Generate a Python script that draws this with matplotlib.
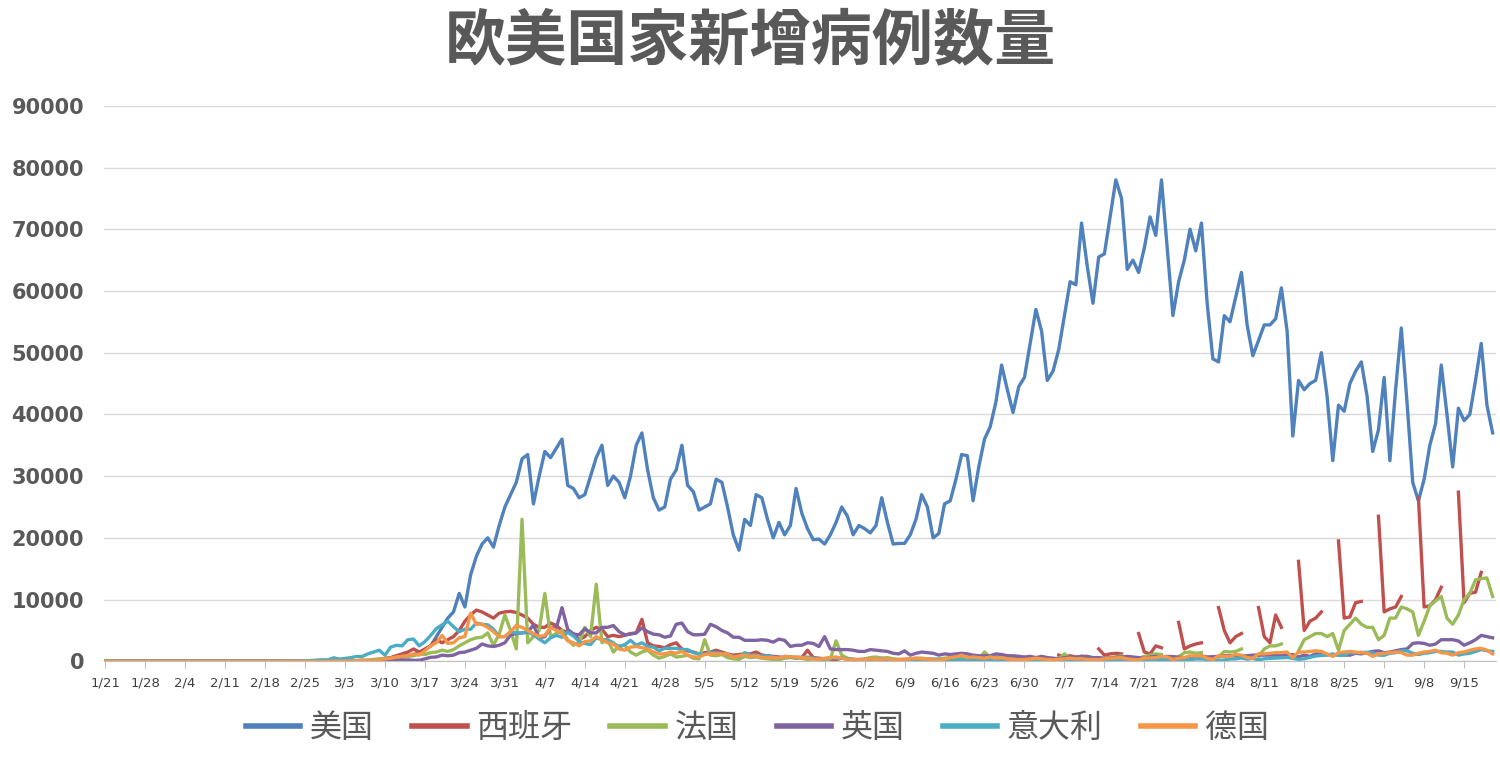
import numpy as np
import matplotlib
matplotlib.use("Agg")
import matplotlib.pyplot as plt
from matplotlib import font_manager as fm

nan = np.nan
title = "欧美国家新增病例数量"
names = ["美国", "西班牙", "法国", "英国", "意大利", "德国"]
colors = ["#4F81BD", "#C0504D", "#9BBB59", "#8064A2", "#4BACC6", "#F79646"]
xtick_labels = ["1/21", "1/28", "2/4", "2/11", "2/18", "2/25", "3/3", "3/10", "3/17", "3/24",
                "3/31", "4/7", "4/14", "4/21", "4/28", "5/5", "5/12", "5/19", "5/26", "6/2",
                "6/9", "6/16", "6/23", "6/30", "7/7", "7/14", "7/21", "7/28", "8/4", "8/11",
                "8/18", "8/25", "9/1", "9/8", "9/15"]

# 1/21 - 2/29 (40 days)
jan_feb = [0, 0, 0, 0, 0, 0, 0, 0, 0, 0,
           0, 0, 0, 0, 0, 0, 0, 0, 0, 0,
           0, 0, 0, 0, 0, 0, 0, 0, 0, 0,
           0, 0, 0, 0, 0, 0, 0, 0, 0, 0]
jan_feb_italy = [0, 0, 0, 0, 0, 0, 0, 0, 0, 0,
                 0, 0, 0, 0, 0, 0, 0, 0, 0, 0,
                 0, 0, 0, 0, 0, 0, 0, 0, 0, 0,
                 0, 20, 50, 70, 90, 100, 120, 200, 250, 240]

us = jan_feb + [
    20, 20, 30, 30, 70, 100, 130, 150, 250, 300, 450, 400, 700, 900, 1100, 1400, 1900, 2500, 4000, 5500,
    7000, 8000, 11000, 8800, 14000, 17000, 19000, 20000, 18500, 22000, 25000,
    27000, 29000, 32800, 33500, 25500, 30000, 34000, 33000, 34500, 36000, 28500, 28000, 26500, 27000, 30000,
    33000, 35000, 28500, 30000, 29000, 26500, 30000, 35000, 37000, 31000, 26500, 24500, 25000, 29500, 31000,
    35000, 28500, 27500, 24500, 25000, 25500, 29500, 29000, 25000, 20500, 18000, 23000, 22000, 27000, 26500,
    23000, 20000, 22500, 20500, 22000, 28000, 24000, 21500, 19700, 19800, 19000, 20500, 22500, 25000, 23500, 20500,
    22000, 21500, 20800, 22000, 26500, 22500, 19000, 19100, 19100, 20500, 23000, 27000, 25000, 20000, 20700,
    25500, 26000, 29500, 33500, 33300, 26000, 31500, 36000, 38000, 42000, 48000, 44000, 40300, 44500, 46000,
    51500, 57000, 53500, 45500, 47000, 50500, 56000, 61500, 61000, 71000, 64000, 58000, 65500, 66000, 72000,
    78000, 75000, 63500, 65000, 63000, 67000, 72000, 69000, 78000, 67000, 56000, 61500, 65000, 70000, 66500, 71000,
    58000, 49000, 48500, 56000, 55000, 59000, 63000, 54500, 49500, 52000, 54500, 54500, 55500, 60500, 53500,
    36500, 45500, 44000, 45000, 45500, 50000, 43000, 32500, 41500, 40500, 45000, 47000, 48500, 43000, 34000, 37500,
    46000, 32500, 44000, 54000, 42000, 29000, 26000, 29500, 35000, 38500, 48000, 40000, 31500, 41000, 39000,
    40000, 45500, 51500, 41500, 37000]

spain = jan_feb + [
    0, 10, 20, 30, 50, 70, 100, 150, 300, 500, 600, 900, 1200, 1500, 2000, 1500, 2000, 2500, 3500, 3000,
    3500, 4000, 5000, 6500, 7500, 8300, 8000, 7500, 7000, 7800, 8000,
    8100, 7900, 7500, 7000, 6000, 5500, 5500, 6200, 5800, 5000, 4700, 4500, 3500, 4000, 5000, 5500, 5200, 4000, 4200, 4000,
    4200, 4500, 4600, 6800, 3000, 2500, 2400, 2200, 2700, 3000,
    2000, 1700, 1500, 1200, 1400, 1500, 1800, 1500, 1200, 1000, 1100, 1200, 1200, 1500, 1000, 900, 800, 700, 600, 700,
    500, 600, 1800, 600, 500, 400, 300, 300, 500, 400, 300,
    300, 300, 400, 350, 400, 350, 300, 250, 300, 350, 400, 450, 350, 300, 250, 300, 450, 500, 350, 300,
    300, 400, 350, 400, 450, 400, 350, 300, 450, 500,
    400, 500, 600, nan, nan, 1000, 800, 900, 700, 800, nan, nan, 2000, 1000, 1200, 1300, 1200,
    nan, nan, 4500, 1500, 1200, 2500, 2200, nan, nan, 6300, 2000, 2500, 2800, 3000,
    nan, nan, 8700, 5000, 3000, 4000, 4500, nan, nan, 8700, 4000, 3000, 7500, 5500,
    nan, nan, 16200, 5000, 6500, 7000, 8000, nan, nan, 19500, 7000, 7200, 9500, 9700, nan, nan, 23500,
    8000, 8500, 8800, 10500, nan, nan, 26500, 8800, 9000, 10000, 12000, nan, nan, 27400, 9500, 11000, 11200, 14400,
    nan, nan]

france = jan_feb + [
    0, 30, 40, 60, 100, 200, 200, 300, 400, 400, 500, 600, 800, 800, 900, 1200, 1100, 1400, 1500, 1800,
    1600, 1900, 2500, 3000, 3500, 3800, 3900, 4600, 2600, 4400, 7500,
    5000, 2000, 23000, 3000, 4000, 5000, 11000, 4000, 4500, 5000, 3500, 2600, 3000, 5500, 4000, 12500, 3000, 3500, 1500, 2500,
    2600, 1500, 1000, 1500, 1800, 1000, 500, 800, 1200, 700,
    800, 1000, 500, 400, 3500, 1000, 900, 1100, 600, 400, 300, 800, 600, 700, 500, 400, 300, 250, 500, 600,
    550, 500, 300, 400, 350, 200, 400, 3300, 1000, 500, 300,
    200, 400, 600, 700, 500, 600, 400, 300, 200, 400, 500, 500, 400, 300, 400, 500, 600, 700, 500, 400,
    200, 300, 1500, 600, 700, 800, 900, 500, 400, 600,
    600, 500, 600, 500, 400, 400, 1200, 500, 600, 700, nan, nan, 400, 500, 600, 700, 900, nan, nan, 500,
    800, 1000, 1200, 1100, nan, nan, 700, 1400, 1500, 1300, 1400,
    nan, nan, 700, 1600, 1500, 1600, 2000, nan, nan, 800, 2000, 2500, 2500, 2800, nan, nan,
    1700, 3500, 4000, 4500, 4500, 4000, 4500, 1800, 5000, 6000, 7000, 6000, 5500, 5500, 3500,
    4200, 7000, 7000, 8800, 8500, 8000, 4200, 6500, 9000, 9800, 10500, 7000, 6000, 7500, 10000,
    11000, 13200, 13400, 13500, 10500]

uk = jan_feb + [
    0, 10, 10, 20, 30, 40, 50, 60, 60, 50, 90, 130, 200, 240, 150, 170, 400, 650, 700, 1000,
    900, 1000, 1400, 1500, 1800, 2100, 2800, 2500, 2400, 2600, 3000,
    4300, 4500, 4600, 4700, 5900, 3800, 4000, 5500, 5400, 8700, 5200, 4400, 4300, 5300, 4600, 4600, 5500, 5500, 5800, 4800,
    4300, 4400, 4600, 5400, 4800, 4400, 4300, 3900, 4100, 6000,
    6200, 4800, 4300, 4300, 4400, 6000, 5600, 5000, 4600, 3900, 3900, 3400, 3400, 3400, 3500, 3400, 3100, 3600, 3400, 2400,
    2600, 2600, 3000, 2900, 2400, 4000, 2000, 1900, 1900, 1900, 1800,
    1600, 1600, 1900, 1800, 1700, 1600, 1300, 1200, 1700, 1000, 1300, 1500, 1400, 1300, 1000, 1200, 1100, 1200, 1300, 1200,
    1000, 900, 900, 900, 1200, 1100, 900, 900, 800, 700,
    800, 600, 800, 600, 500, 400, 600, 700, 600, 800, 800, 600, 600, 500, 500, 650, 700, 800, 700, 600,
    450, 700, 800, 700, 800, 750, 700, 550, 750, 700, 850,
    700, 750, 800, 900, 900, 900, 850, 900, 1000, 1000, 1000, 1000, 1000, 1000, 1000, 1100, 700, 1000, 800, 1200,
    1100, 1100, 1000, 1100, 1000, 1000, 1300, 1200, 1400, 1600, 1700,
    1400, 1500, 1700, 1900, 2000, 2900, 3000, 2900, 2600, 2800, 3500, 3500, 3500, 3300, 2600,
    3000, 3500, 4200, 4000, 3800]

italy = jan_feb_italy + [
    570, 350, 470, 590, 780, 780, 1200, 1500, 1800, 1000, 2300, 2600, 2500, 3500, 3600, 2500, 3200, 4200, 5300, 5900,
    6500, 5600, 4800, 5200, 5200, 6200, 6000, 5900, 5200, 4000, 4000,
    4800, 4600, 4600, 4800, 4300, 3600, 3000, 3800, 4200, 3900, 4700, 4100, 3200, 2900, 2700, 3800, 3500, 3500, 3000, 2300,
    2700, 3400, 2600, 3000, 2400, 2300, 1700, 2100, 2100, 2100,
    1900, 1900, 1400, 1200, 1100, 1400, 1400, 1300, 1100, 800, 750, 1400, 1000, 1000, 800, 900, 700, 450, 800, 650,
    640, 650, 670, 530, 300, 400, 600, 500, 520, 420, 350,
    180, 320, 320, 180, 520, 270, 200, 280, 280, 200, 380, 160, 350, 340, 300, 200, 300, 330, 250, 260,
    220, 220, 120, 190, 300, 260, 170, 170, 120, 140,
    190, 180, 220, 240, 190, 200, 140, 190, 230, 280, 190, 230, 170, 110, 160, 230, 240, 250, 220, 130,
    190, 280, 300, 250, 270, 250, 180, 210, 290, 380, 380,
    300, 240, 160, 200, 380, 400, 550, 350, 460, 250, 410, 480, 520, 570, 630, 480, 320, 400, 640, 850,
    950, 1000, 1200, 950, 1000, 1400, 1350, 1450, 1450, 1350, 1000,
    980, 1300, 1400, 1700, 1700, 1300, 1100, 1300, 1400, 1600, 1600, 1500, 1500, 1000, 1200,
    1300, 1600, 1900, 1700, 1600]

germany = jan_feb + [
    60, 30, 50, 60, 100, 180, 120, 130, 220, 400, 500, 700, 800, 900, 1200, 1000, 1700, 2500, 3000, 4200,
    2900, 3000, 3800, 4000, 7800, 6000, 6000, 5500, 4800, 4000, 4000,
    4800, 5800, 5500, 5000, 4500, 4000, 4200, 5500, 5000, 4500, 3300, 3000, 2500, 3200, 3300, 4000, 3500, 3000, 2800, 2000,
    1800, 2300, 2400, 2200, 2000, 1500, 1200, 1200, 1500, 1300,
    1600, 1000, 700, 700, 1100, 1200, 1200, 1200, 1200, 600, 900, 1000, 800, 900, 600, 600, 600, 500, 800, 700,
    700, 600, 500, 400, 300, 500, 600, 700, 500, 300, 300,
    250, 300, 400, 300, 400, 400, 200, 300, 350, 400, 500, 400, 400, 250, 200, 350, 600, 700, 1000, 600,
    700, 600, 500, 700, 500, 600, 400, 300, 250, 300,
    400, 500, 400, 300, 250, 350, 400, 500, 400, 450, 300, 300, 250, 400, 500, 550, 600, 400, 300, 250,
    500, 550, 600, 800, 700, 300, 500, 600, 900, 850, 900,
    500, 300, 900, 800, 800, 1100, 1000, 600, 500, 1200, 1200, 1300, 1400, 1400, 1500, 600, 1500, 1500, 1600, 1700,
    1600, 1200, 800, 1400, 1500, 1600, 1500, 1400, 1300, 800, 1200,
    1300, 1400, 1500, 1400, 1000, 1000, 1300, 1500, 1600, 1800, 1400, 1300, 1000, 1400, 1500,
    1800, 2000, 2100, 1800, 1200]

series = [us, spain, france, uk, italy, germany]


def find_cjk(bold=False):
    files = fm.findSystemFonts()
    cands = [f for f in files if "NotoSansCJK" in f.replace(" ", "") or "NotoSansSC" in f]
    if bold:
        b = [f for f in cands if "Bold" in f]
        if b:
            return b[0]
    r = [f for f in cands if "Regular" in f]
    if r:
        return r[0]
    if cands:
        return cands[0]
    return None


reg_path = find_cjk(False)
bold_path = find_cjk(True)
cjk = fm.FontProperties(fname=reg_path) if reg_path else fm.FontProperties(family="Noto Sans CJK SC")
cjk_bold = fm.FontProperties(fname=bold_path) if bold_path else fm.FontProperties(family="Noto Sans CJK SC", weight="bold")

fig = plt.figure(figsize=(15, 7.61), dpi=100)
ax = fig.add_axes([0.069, 0.131, 0.928, 0.730])

for name, c, s in zip(names, colors, series):
    ax.plot(np.arange(len(s)), s, color=c, lw=2.4, label=name, solid_joinstyle="round")

ax.set_ylim(0, 90000)
ax.set_xlim(-0.3, 243.5)
ax.set_yticks(np.arange(0, 90001, 10000))
ax.set_yticklabels([str(v) for v in range(0, 90001, 10000)], fontsize=15,
                   fontweight="bold", color="#595959", family="DejaVu Sans")
ax.set_xticks(np.arange(len(xtick_labels)) * 7)
ax.set_xticklabels(xtick_labels, fontsize=9.5, color="#404040", family="DejaVu Sans")
ax.grid(axis="y", color="#D9D9D9", lw=1)
ax.set_axisbelow(True)
for sp in ["top", "right", "left"]:
    ax.spines[sp].set_visible(False)
ax.spines["bottom"].set_color("#BFBFBF")
ax.tick_params(axis="y", length=0, pad=14)
ax.tick_params(axis="x", length=5, color="#BFBFBF", pad=6)

tp = cjk_bold.copy()
tp.set_size(44)
fig.text(0.5, 0.945, title, ha="center", va="center", fontproperties=tp, color="#595959")
lp = cjk.copy()
lp.set_size(23)
leg = fig.legend(loc="center", bbox_to_anchor=(0.505, 0.043), ncol=6, frameon=False,
                 prop=lp, handlelength=1.7, handletextpad=0.3, columnspacing=1.2,
                 labelcolor="#595959")
for line in leg.get_lines():
    line.set_linewidth(4)

fig.savefig("out.png", dpi=100)
